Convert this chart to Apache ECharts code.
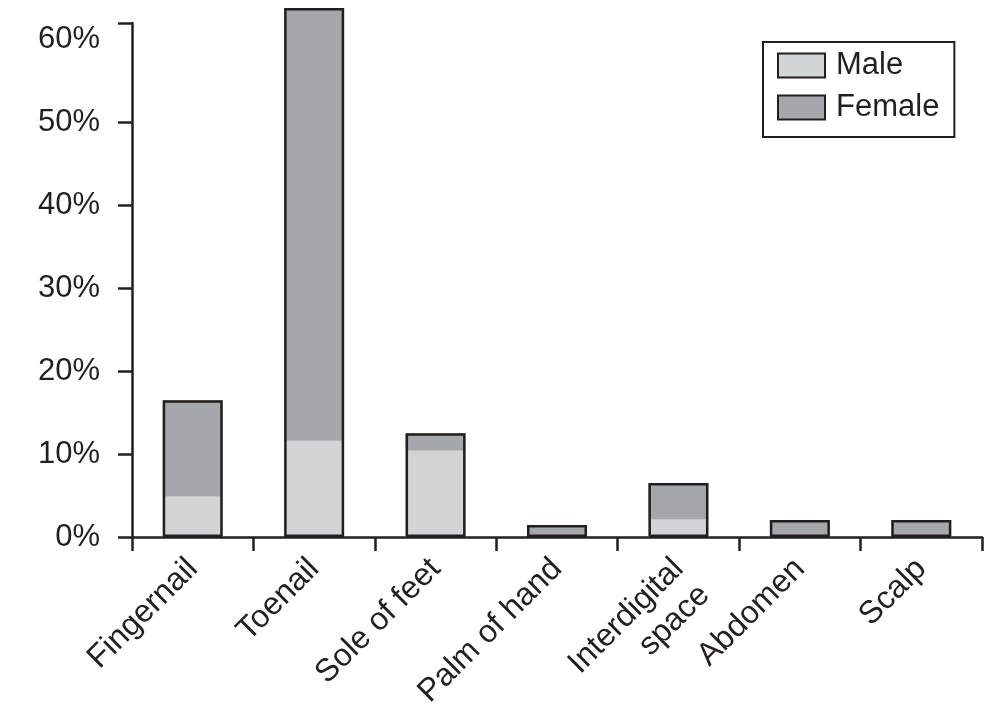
<!DOCTYPE html>
<html>
<head>
<meta charset="utf-8">
<style>
  html, body { margin: 0; padding: 0; background: #ffffff; }
  #chart { width: 1008px; height: 716px; }
</style>
<script src="https://cdn.jsdelivr.net/npm/echarts@6/dist/echarts.min.js"></script>
</head>
<body>
<div id="chart"></div>
<script>
// ---- data ----
var categories = ['Fingernail', 'Toenail', 'Sole of feet', 'Palm of hand', 'Interdigital\nspace', 'Abdomen', 'Scalp'];
var maleValues = [4.9, 11.6, 10.4, 0, 2.1, 0, 0];
var femaleValues = [11.6, 52.2, 2.1, 1.45, 4.4, 2.05, 2.05];
var yTickLabels = [0, 10, 20, 30, 40, 50, 60];
var yTickMarks = [0, 10, 20, 30, 40, 50, 62];
var yMax = 62;

var totals = maleValues.map(function (v, i) { return +(v + femaleValues[i]).toFixed(2); });

var INK = '#231f20';
var FONT = "'Liberation Sans', Arial, Helvetica, sans-serif";

var chart = echarts.init(document.getElementById('chart'), null, { renderer: 'canvas' });
chart.setOption({
  animation: false,
  backgroundColor: '#ffffff',
  textStyle: { fontFamily: FONT, color: INK },
  grid: { left: 132, right: 26, top: 23, bottom: 179, containLabel: false },
  legend: {
    orient: 'vertical',
    left: 763,
    top: 42,
    padding: [8, 15, 14, 14],
    itemGap: 11,
    itemWidth: 47,
    itemHeight: 24,
    icon: 'rect',
    borderColor: INK,
    borderWidth: 2,
    itemStyle: { borderColor: INK, borderWidth: 2 },
    textStyle: { fontFamily: FONT, fontSize: 31, color: INK, lineHeight: 31, padding: [0, 0, 0, 6] },
    data: ['Male', 'Female']
  },
  xAxis: {
    type: 'category',
    data: categories,
    boundaryGap: true,
    axisLine: { lineStyle: { color: INK, width: 2.5 } },
    axisTick: { show: true, length: 14, lineStyle: { color: INK, width: 2.5 } },
    axisLabel: {
      rotate: 45,
      margin: 27,
      interval: 0,
      fontSize: 32,
      lineHeight: 37,
      color: INK,
      fontFamily: FONT,
      formatter: function (v) { return v.indexOf('\n') >= 0 ? ' \n' + v : v; }
    }
  },
  yAxis: {
    type: 'value',
    min: 0,
    max: yMax,
    interval: 10,
    splitLine: { show: false },
    axisLine: { show: true, lineStyle: { color: INK, width: 2.5 } },
    axisTick: { show: true, length: 14, customValues: yTickMarks, lineStyle: { color: INK, width: 2.5 } },
    axisLabel: {
      customValues: yTickLabels,
      margin: 32,
      fontSize: 31,
      color: INK,
      fontFamily: FONT,
      formatter: function (v) { return v + '%'; }
    }
  },
  series: [
    {
      name: 'Male', type: 'bar', stack: 'sex', barWidth: 60, clip: false,
      itemStyle: { color: '#d3d4d6', borderWidth: 0 },
      data: maleValues
    },
    {
      name: 'Female', type: 'bar', stack: 'sex', barWidth: 60, clip: false,
      itemStyle: { color: '#a6a7aa', borderWidth: 0 },
      data: femaleValues
    },
    {
      name: 'Total', type: 'bar', barWidth: 60, barGap: '-100%', clip: false, z: 3,
      itemStyle: { color: 'rgba(0,0,0,0)', borderColor: INK, borderWidth: 2.5 },
      data: totals
    }
  ]
});
</script>
</body>
</html>
